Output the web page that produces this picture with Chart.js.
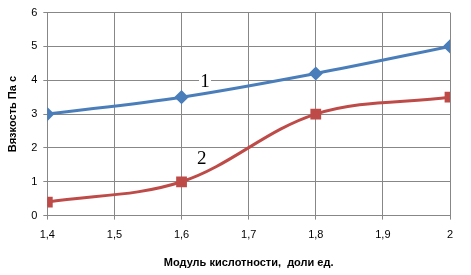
<!DOCTYPE html>
<html>
<head>
<meta charset="utf-8">
<script src="https://cdn.jsdelivr.net/npm/chart.js@4/dist/chart.umd.min.js"></script>
<style>
  html, body { margin: 0; padding: 0; background: #fff; }
  #wrap { width: 471px; height: 275px; position: relative; }
</style>
</head>
<body>
<div id="wrap"><canvas id="chart"></canvas></div>
<script>
// данные с графика
const modul = [1.4, 1.6, 1.8, 2.0];
const vyazkost1 = [3.0, 3.5, 4.2, 5.0];
const vyazkost2 = [0.4, 1.0, 3.0, 3.5];
const curveLabels = ["1", "2"];
const labelPos = [[1.635, 3.98], [1.63, 1.69]];

function toPoints(xs, ys) {
  return xs.map((x, i) => ({ x: x, y: ys[i] }));
}

// подписи кривых "1" и "2"
const curveLabelPlugin = {
  id: "curveLabels",
  afterDatasetsDraw(chart) {
    const ctx = chart.ctx;
    const sx = chart.scales.x, sy = chart.scales.y;
    ctx.save();
    ctx.font = "19px 'Liberation Serif'";
    ctx.textAlign = "center";
    ctx.textBaseline = "middle";
    curveLabels.forEach((t, i) => {
      const px = sx.getPixelForValue(labelPos[i][0]);
      const py = sy.getPixelForValue(labelPos[i][1]);
      ctx.fillStyle = "#fff";
      ctx.fillRect(px - 6, py - 10, 12, 20);
      ctx.fillStyle = "#000";
      ctx.fillText(t, px, py + 1);
    });
    ctx.restore();
  }
};

new Chart(document.getElementById("chart"), {
  type: "line",
  data: {
    datasets: [
      {
        label: "1",
        data: toPoints(modul, vyazkost1),
        borderColor: "#4A7EBB",
        backgroundColor: "#4A7EBB",
        borderWidth: 3,
        pointStyle: "rectRot",
        pointRadius: 5,
        tension: 0.35,
      },
      {
        label: "2",
        data: toPoints(modul, vyazkost2),
        borderColor: "#BE4B48",
        backgroundColor: "#BE4B48",
        borderWidth: 3,
        pointStyle: "rect",
        pointRadius: 5.5,
        tension: 0.35,
      },
    ],
  },
  options: {
    responsive: true,
    maintainAspectRatio: false,
    animation: false,
    layout: { padding: { top: 5, right: 21, left: 2, bottom: 1 } },
    plugins: { legend: { display: false }, tooltip: { enabled: false } },
    scales: {
      x: {
        type: "linear",
        min: 1.4,
        max: 2.0,
        ticks: {
          stepSize: 0.1,
          color: "#000",
          font: { family: "Arial, 'Liberation Sans'", size: 11 },
          padding: 9,
          callback: (v) => (Math.abs(v - 2) < 1e-9 ? "2" : v.toFixed(1).replace(".", ",")),
        },
        grid: { color: "#878787", tickLength: 4, lineWidth: 1 },
        border: { color: "#878787" },
        title: {
          display: true,
          text: "Модуль кислотности,  доли ед.",
          color: "#000",
          font: { family: "Arial, 'Liberation Sans'", size: 11, weight: "bold" },
          padding: { top: 6 },
        },
      },
      y: {
        min: 0,
        max: 6,
        ticks: {
          stepSize: 1,
          color: "#000",
          font: { family: "Arial, 'Liberation Sans'", size: 11 },
          padding: 6,
        },
        grid: { color: "#878787", tickLength: 4, lineWidth: 1 },
        border: { color: "#878787" },
        title: {
          display: true,
          text: "Вязкость Па с",
          color: "#000",
          font: { family: "Arial, 'Liberation Sans'", size: 11, weight: "bold" },
          padding: { bottom: 6 },
        },
      },
    },
  },
  plugins: [curveLabelPlugin],
});
</script>
</body>
</html>
